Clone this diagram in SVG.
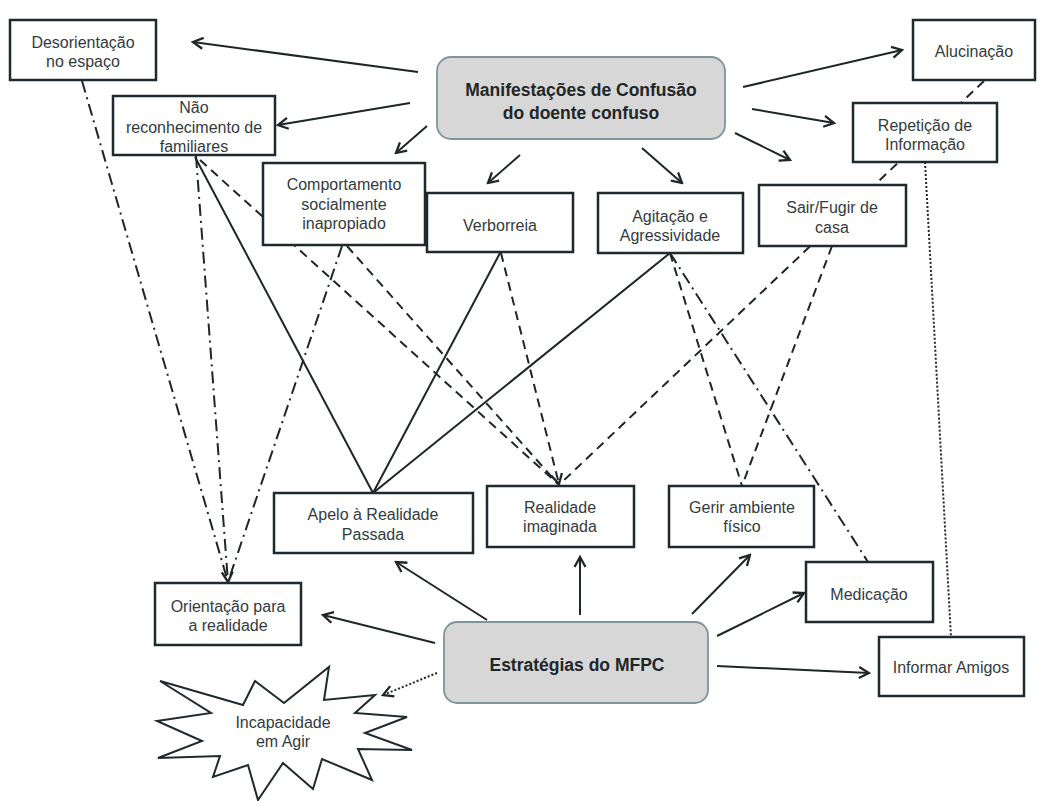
<svg xmlns="http://www.w3.org/2000/svg" width="1046" height="801" viewBox="0 0 1046 801">
<style>
.bx{fill:#fff;stroke:#1e2a2e;stroke-width:2.5}
.rb{fill:#d7d7d7;stroke:#7f949c;stroke-width:1.8}
.t{font-family:"Liberation Sans",Arial,sans-serif;font-size:16px;fill:#333b3e;text-anchor:middle}
.tb{font-family:"Liberation Sans",Arial,sans-serif;font-size:17.5px;font-weight:bold;fill:#1f2628;text-anchor:middle}
.c line{stroke:#1f2628;stroke-width:2;fill:none}
.ar{marker-end:url(#ah);stroke-width:2.3}
.sd{}
.da{stroke-dasharray:9 6}
.dd{stroke-dasharray:12 5 2 5}
.dt{stroke-dasharray:2 2}
</style>
<defs>
<marker id="ah" viewBox="0 0 14 14" refX="12" refY="7" markerWidth="14" markerHeight="14" markerUnits="userSpaceOnUse" orient="auto">
<path d="M2,1.5 L12,7 L2,12.5" fill="none" stroke="#1f2628" stroke-width="2.3"/>
</marker>
</defs>
<rect width="1046" height="801" fill="#fff"/>
<g id="connectors" class="c">
<!-- from Manifestacoes -->
<line class="ar" x1="418" y1="72" x2="193" y2="42"/>
<line class="ar" x1="410" y1="103" x2="278" y2="125"/>
<line class="ar" x1="427" y1="126" x2="396" y2="153"/>
<line class="ar" x1="520" y1="155" x2="488" y2="183"/>
<line class="ar" x1="642" y1="148" x2="682" y2="183"/>
<line class="ar" x1="735" y1="133" x2="790" y2="160"/>
<line class="ar" x1="752" y1="109" x2="834" y2="123"/>
<line class="ar" x1="743" y1="87" x2="902" y2="50"/>
<!-- from Estrategias -->
<line class="ar" x1="487" y1="620" x2="396" y2="562"/>
<line class="ar" x1="435" y1="643" x2="323" y2="615"/>
<line class="ar dt" x1="437" y1="673" x2="383" y2="695"/>
<line class="ar" x1="580" y1="615" x2="580" y2="557"/>
<line class="ar" x1="692" y1="614" x2="750" y2="555"/>
<line class="ar" x1="717" y1="636" x2="804" y2="593"/>
<line class="ar" x1="717" y1="666" x2="869" y2="673"/>
<!-- solid relations to Apelo -->
<line x1="195" y1="157" x2="373" y2="493"/>
<line x1="500" y1="253" x2="373" y2="493"/>
<line x1="670" y1="253" x2="373" y2="493"/>
<!-- dashed relations -->
<line class="da" x1="200" y1="160" x2="558" y2="484"/>
<line class="da" x1="347" y1="246" x2="558" y2="484"/>
<line class="da ar" x1="501" y1="253" x2="559" y2="484"/>
<line class="da" x1="984" y1="81" x2="560" y2="484"/>
<line class="da" x1="670" y1="253" x2="742" y2="486"/>
<line class="da" x1="832" y1="246" x2="742" y2="486"/>
<!-- dash-dot relations -->
<line class="dd" x1="82" y1="81" x2="228" y2="582"/>
<line class="dd ar" x1="196" y1="156" x2="228" y2="582"/>
<line class="dd" x1="342" y1="246" x2="228" y2="582"/>
<line class="dd" x1="670" y1="253" x2="868" y2="562"/>
<!-- dotted relation -->
<line class="dt" x1="925" y1="162" x2="951" y2="637"/>
</g>
<g id="n-desorientacao"><rect class="bx" x="10" y="20" width="146" height="60"/><text class="t" x="83" y="48">Desorientação</text><text class="t" x="83" y="67">no espaço</text></g>
<g id="n-manifestacoes"><rect class="rb" x="437" y="57" width="288" height="82" rx="14"/><text class="tb" x="581" y="96">Manifestações de Confusão</text><text class="tb" x="581" y="119">do doente confuso</text></g>
<g id="n-alucinacao"><rect class="bx" x="913" y="20" width="122" height="60"/><text class="t" x="974" y="57">Alucinação</text></g>
<g id="n-nao"><rect class="bx" x="113" y="96" width="162" height="59"/><text class="t" x="194" y="113">Não</text><text class="t" x="194" y="133">reconhecimento de</text><text class="t" x="194" y="152">familiares</text></g>
<g id="n-repeticao"><rect class="bx" x="853" y="103" width="144" height="59"/><text class="t" x="925" y="131">Repetição de</text><text class="t" x="925" y="150">Informação</text></g>
<g id="n-comportamento"><rect class="bx" x="263" y="163" width="162" height="82"/><text class="t" x="344" y="190">Comportamento</text><text class="t" x="344" y="210">socialmente</text><text class="t" x="344" y="229">inapropiado</text></g>
<g id="n-verborreia"><rect class="bx" x="427" y="193" width="146" height="59"/><text class="t" x="500" y="231">Verborreia</text></g>
<g id="n-agitacao"><rect class="bx" x="598" y="193" width="145" height="60"/><text class="t" x="670" y="222">Agitação e</text><text class="t" x="670" y="241">Agressividade</text></g>
<g id="n-sair"><rect class="bx" x="759" y="185" width="147" height="61"/><text class="t" x="832" y="213">Sair/Fugir de</text><text class="t" x="832" y="233">casa</text></g>
<g id="n-apelo"><rect class="bx" x="274" y="493" width="199" height="60"/><text class="t" x="373" y="520">Apelo à Realidade</text><text class="t" x="373" y="540">Passada</text></g>
<g id="n-realidade"><rect class="bx" x="487" y="486" width="147" height="61"/><text class="t" x="560" y="513">Realidade</text><text class="t" x="560" y="532">imaginada</text></g>
<g id="n-gerir"><rect class="bx" x="669" y="486" width="145" height="61"/><text class="t" x="742" y="513">Gerir ambiente</text><text class="t" x="742" y="532">físico</text></g>
<g id="n-medicacao"><rect class="bx" x="806" y="562" width="127" height="60"/><text class="t" x="869" y="600">Medicação</text></g>
<g id="n-orientacao"><rect class="bx" x="155" y="583" width="146" height="62"/><text class="t" x="228" y="612">Orientação para</text><text class="t" x="228" y="631">a realidade</text></g>
<g id="n-estrategias"><rect class="rb" x="444" y="622" width="264" height="81" rx="13"/><text class="tb" x="577" y="671">Estratégias do MFPC</text></g>
<g id="n-informar"><rect class="bx" x="879" y="637" width="145" height="59"/><text class="t" x="951" y="673">Informar Amigos</text></g>
<g id="n-incapacidade"><polygon fill="#fff" stroke="#1e2a2e" stroke-width="2" points="160,681 243,705 255,681 284,703 329,667 324,700 375,695 355,713 407,717 365,733 412,750 358,749 372,780 322,759 313,789 283,763 258,800 248,765 213,777 220,756 158,758 202,741 157,721 211,713"/><text class="t" x="283" y="728">Incapacidade</text><text class="t" x="283" y="747">em Agir</text></g>
</svg>
